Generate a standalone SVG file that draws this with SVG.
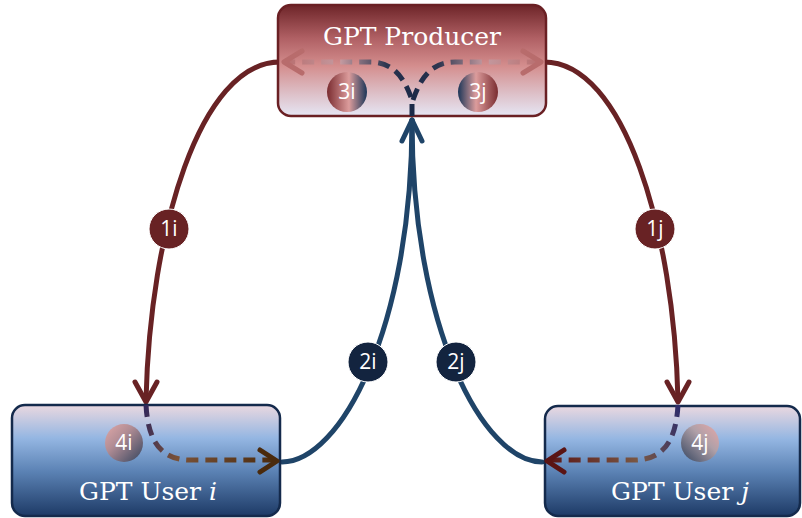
<svg xmlns="http://www.w3.org/2000/svg" width="802" height="518" viewBox="0 0 802 518">
<defs>
<linearGradient id="gProd" x1="0" y1="0" x2="0" y2="1">
<stop offset="0" stop-color="#6e2529"/>
<stop offset="0.3" stop-color="#b06064"/>
<stop offset="0.55" stop-color="#d48e8e"/>
<stop offset="0.8" stop-color="#ddc0c8"/>
<stop offset="1" stop-color="#e6e6f4"/>
</linearGradient>
<linearGradient id="gUser" x1="0" y1="0" x2="0" y2="1">
<stop offset="0" stop-color="#ead8e0"/>
<stop offset="0.3" stop-color="#94b6e2"/>
<stop offset="0.6" stop-color="#5b82b4"/>
<stop offset="1" stop-color="#1d3a66"/>
</linearGradient>
<linearGradient id="g3i" x1="0" y1="0" x2="1" y2="0">
<stop offset="0" stop-color="#7a2c30"/>
<stop offset="0.55" stop-color="#dc9c9c"/>
<stop offset="1" stop-color="#1c3658"/>
</linearGradient>
<linearGradient id="g3j" x1="0" y1="0" x2="1" y2="0">
<stop offset="0" stop-color="#1c3658"/>
<stop offset="0.45" stop-color="#dc9c9c"/>
<stop offset="1" stop-color="#7a2c30"/>
</linearGradient>
<linearGradient id="g4i" x1="0" y1="0" x2="1" y2="1">
<stop offset="0" stop-color="#e0a8a8"/>
<stop offset="0.4" stop-color="#b08c94"/>
<stop offset="1" stop-color="#34445e"/>
</linearGradient>
<linearGradient id="g4j" x1="0" y1="1" x2="1" y2="0">
<stop offset="0" stop-color="#34445e"/>
<stop offset="0.6" stop-color="#b0a0a8"/>
<stop offset="1" stop-color="#e8a8a8"/>
</linearGradient>
<linearGradient id="gDashL" gradientUnits="userSpaceOnUse" x1="282" y1="0" x2="412" y2="0">
<stop offset="0" stop-color="#b86c6c"/>
<stop offset="0.45" stop-color="#c49aa0"/>
<stop offset="0.8" stop-color="#2e3650"/>
<stop offset="1" stop-color="#1c2a48"/>
</linearGradient>
<linearGradient id="gDashR" gradientUnits="userSpaceOnUse" x1="543" y1="0" x2="413" y2="0">
<stop offset="0" stop-color="#b86c6c"/>
<stop offset="0.45" stop-color="#c49aa0"/>
<stop offset="0.8" stop-color="#2e3650"/>
<stop offset="1" stop-color="#1c2a48"/>
</linearGradient>
<linearGradient id="gDashUi" gradientUnits="userSpaceOnUse" x1="146" y1="405" x2="278" y2="460">
<stop offset="0" stop-color="#34285a"/>
<stop offset="0.35" stop-color="#7a5238"/>
<stop offset="1" stop-color="#4a2a0c"/>
</linearGradient>
<linearGradient id="gDashUj" gradientUnits="userSpaceOnUse" x1="678" y1="405" x2="546" y2="460">
<stop offset="0" stop-color="#2e2c6a"/>
<stop offset="0.4" stop-color="#7a5844"/>
<stop offset="1" stop-color="#5a1414"/>
</linearGradient>
<style>
.box-p{fill:url(#gProd);stroke:#6a2024;stroke-width:2.5}
.box-u{fill:url(#gUser);stroke:#142a4c;stroke-width:2.5}
.title{font-family:"DejaVu Serif","Liberation Serif",serif;font-size:25px;fill:#ffffff;text-anchor:middle}
.badge{font-family:"Open Sans","Liberation Sans",sans-serif;font-size:21px;fill:#ffffff;text-anchor:middle}
.red{fill:none;stroke:#682224;stroke-width:5;stroke-linecap:round}
.blue{fill:none;stroke:#1f4468;stroke-width:5;stroke-linecap:round}
.dash{fill:none;stroke-width:5;stroke-dasharray:12 7}
.head{fill:none;stroke-width:5;stroke-linecap:round;stroke-linejoin:round}
</style>
</defs>

<g id="connectors">
<path class="red" d="M280 62 C200 62 150 230 146 400"/>
<path class="head" stroke="#682224" d="M135 382 L146 402 L157 382"/>
<path class="red" d="M544 62 C624 62 674 230 678 400"/>
<path class="head" stroke="#682224" d="M667 382 L678 402 L689 382"/>
<path class="blue" d="M282 462 C340 462 412 330 412 120"/>
<path class="blue" d="M542 462 C484 462 412 330 412 120"/>
<path class="head" stroke="#1f4468" d="M402 141 L412 120 L422 141"/>
</g>

<g id="producer">
<rect class="box-p" x="278" y="5" width="268" height="111" rx="13"/>
<text class="title" x="412" y="45">GPT Producer</text>
<path class="dash" stroke="url(#gDashL)" d="M412 116 L412 100 C405 80 395 62 370 62 L286 62"/>
<path class="head" stroke="#b86c6c" d="M302 51 L284 62 L302 73"/>
<path class="dash" stroke="url(#gDashR)" d="M413 100 C420 80 430 62 455 62 L539 62"/>
<path class="head" stroke="#b86c6c" d="M523 51 L541 62 L523 73"/>
<g id="badge3i"><circle cx="347" cy="92" r="20" fill="url(#g3i)"/><text class="badge" x="347" y="99">3i</text></g>
<g id="badge3j"><circle cx="478" cy="92" r="20" fill="url(#g3j)"/><text class="badge" x="478" y="99">3j</text></g>
</g>

<g id="user-i">
<rect class="box-u" x="12" y="405" width="268" height="111" rx="13"/>
<text class="title" x="148" y="500">GPT User <tspan font-style="italic">i</tspan></text>
<path class="dash" stroke="url(#gDashUi)" d="M146 405 C148 440 160 460 190 460 L274 460"/>
<path class="head" stroke="#4a2a0c" d="M260 450 L277 461 L260 472"/>
<g id="badge4i"><circle cx="124" cy="443" r="19" fill="url(#g4i)"/><text class="badge" x="124" y="450">4i</text></g>
</g>

<g id="user-j">
<rect class="box-u" x="545" y="406" width="255" height="110" rx="13"/>
<text class="title" x="680" y="500">GPT User <tspan font-style="italic">j</tspan></text>
<path class="dash" stroke="url(#gDashUj)" d="M678 405 C676 440 664 460 634 460 L550 460"/>
<path class="head" stroke="#5a1414" d="M564 450 L547 461 L564 472"/>
<g id="badge4j"><circle cx="700" cy="443" r="19" fill="url(#g4j)"/><text class="badge" x="700" y="450">4j</text></g>
</g>

<g id="label-1i"><circle cx="169" cy="229" r="20" fill="#682224" stroke="#ffffff" stroke-width="1"/><text class="badge" x="169" y="236">1i</text></g>
<g id="label-1j"><circle cx="655" cy="229" r="20" fill="#682224" stroke="#ffffff" stroke-width="1"/><text class="badge" x="655" y="236">1j</text></g>
<g id="label-2i"><circle cx="368" cy="362" r="20" fill="#13243f" stroke="#ffffff" stroke-width="1"/><text class="badge" x="368" y="369">2i</text></g>
<g id="label-2j"><circle cx="456" cy="362" r="20" fill="#13243f" stroke="#ffffff" stroke-width="1"/><text class="badge" x="456" y="369">2j</text></g>
</svg>
